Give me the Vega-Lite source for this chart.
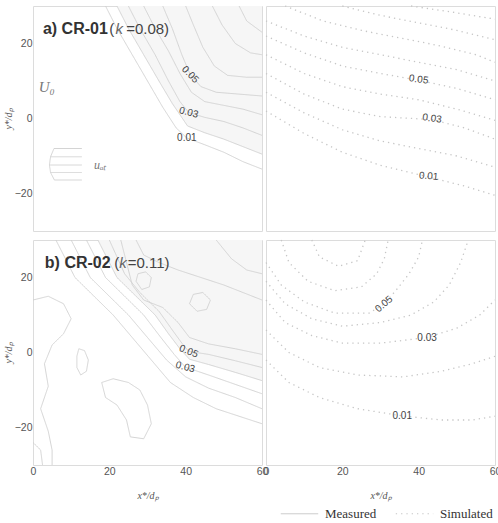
{
  "$schema": "https://vega.github.io/schema/vega-lite/v6.json",
  "background": "white",
  "padding": {"left": 2, "top": 2, "right": 0, "bottom": 0},
  "config": {
    "view": {"stroke": "#dcdcdc", "strokeWidth": 1},
    "axis": {"labelFont": "Liberation Sans", "labelFontSize": 10.5, "labelColor": "#555", "ticks": false, "domain": false, "grid": false, "titleFont": "Liberation Serif", "titleFontStyle": "italic", "titleFontWeight": "normal", "titleFontSize": 10, "titleColor": "#555"},
    "axisY": {"labelPadding": 1, "titlePadding": 1},
    "axisX": {"labelPadding": 1.5, "titlePadding": 13, "labelFlush": false},
    "text": {"font": "Liberation Sans", "fontSize": 10, "color": "#444", "align": "center", "baseline": "middle"}
  },
  "datasets": {
    "c": [
      {"p":"am","id":"a1","i":0,"x":19,"y":30},{"p":"am","id":"a1","i":1,"x":22,"y":24},{"p":"am","id":"a1","i":2,"x":26,"y":17},{"p":"am","id":"a1","i":3,"x":30,"y":10},{"p":"am","id":"a1","i":4,"x":34,"y":3},{"p":"am","id":"a1","i":5,"x":37.5,"y":-2.5},{"p":"am","id":"a1","i":6,"x":40.3,"y":-5.2},{"p":"am","id":"a1","i":7,"x":45,"y":-7},{"p":"am","id":"a1","i":8,"x":50,"y":-9},{"p":"am","id":"a1","i":9,"x":55,"y":-11.5},{"p":"am","id":"a1","i":10,"x":60,"y":-13.5},
      {"p":"am","id":"a2","i":0,"x":22,"y":30},{"p":"am","id":"a2","i":1,"x":25,"y":24},{"p":"am","id":"a2","i":2,"x":29,"y":17},{"p":"am","id":"a2","i":3,"x":33,"y":10},{"p":"am","id":"a2","i":4,"x":36.5,"y":4},{"p":"am","id":"a2","i":5,"x":40.5,"y":-2},{"p":"am","id":"a2","i":6,"x":45,"y":-3.8},{"p":"am","id":"a2","i":7,"x":50,"y":-5.5},{"p":"am","id":"a2","i":8,"x":55,"y":-7.5},{"p":"am","id":"a2","i":9,"x":60,"y":-9.5},
      {"p":"am","id":"a3","i":0,"x":25,"y":30},{"p":"am","id":"a3","i":1,"x":28,"y":24},{"p":"am","id":"a3","i":2,"x":32,"y":17},{"p":"am","id":"a3","i":3,"x":35.5,"y":10},{"p":"am","id":"a3","i":4,"x":38.5,"y":4.5},{"p":"am","id":"a3","i":5,"x":40.8,"y":1.6},{"p":"am","id":"a3","i":6,"x":45,"y":0.3},{"p":"am","id":"a3","i":7,"x":50,"y":-0.8},{"p":"am","id":"a3","i":8,"x":55,"y":-2.5},{"p":"am","id":"a3","i":9,"x":60,"y":-4.5},
      {"p":"am","id":"a4","i":0,"x":29,"y":30},{"p":"am","id":"a4","i":1,"x":32,"y":24},{"p":"am","id":"a4","i":2,"x":35.5,"y":18},{"p":"am","id":"a4","i":3,"x":38.5,"y":12},{"p":"am","id":"a4","i":4,"x":41.5,"y":7},{"p":"am","id":"a4","i":5,"x":45,"y":4.5},{"p":"am","id":"a4","i":6,"x":50,"y":3.5},{"p":"am","id":"a4","i":7,"x":55,"y":2.5},{"p":"am","id":"a4","i":8,"x":60,"y":1},
      {"p":"am","id":"a5","i":0,"x":34,"y":30},{"p":"am","id":"a5","i":1,"x":36.5,"y":24},{"p":"am","id":"a5","i":2,"x":39,"y":17},{"p":"am","id":"a5","i":3,"x":41.2,"y":11.7},{"p":"am","id":"a5","i":4,"x":44,"y":8.5},{"p":"am","id":"a5","i":5,"x":48,"y":7},{"p":"am","id":"a5","i":6,"x":54,"y":6.5},{"p":"am","id":"a5","i":7,"x":60,"y":6},
      {"p":"am","id":"a6","i":0,"x":40,"y":30},{"p":"am","id":"a6","i":1,"x":42,"y":25},{"p":"am","id":"a6","i":2,"x":44.5,"y":19},{"p":"am","id":"a6","i":3,"x":47.5,"y":14},{"p":"am","id":"a6","i":4,"x":51,"y":11.5},{"p":"am","id":"a6","i":5,"x":56,"y":11},{"p":"am","id":"a6","i":6,"x":60,"y":11},
      {"p":"am","id":"a7","i":0,"x":47,"y":30},{"p":"am","id":"a7","i":1,"x":49.5,"y":25},{"p":"am","id":"a7","i":2,"x":53,"y":20},{"p":"am","id":"a7","i":3,"x":57,"y":17.5},{"p":"am","id":"a7","i":4,"x":60,"y":17},
      {"p":"am","id":"a8","i":0,"x":54,"y":30},{"p":"am","id":"a8","i":1,"x":56,"y":26},{"p":"am","id":"a8","i":2,"x":60,"y":23},
      {"p":"am","id":"pr","i":0,"x":5.5,"y":-8},{"p":"am","id":"pr","i":1,"x":4.6,"y":-10.2},{"p":"am","id":"pr","i":2,"x":4.3,"y":-12.4},{"p":"am","id":"pr","i":3,"x":4.6,"y":-14.4},{"p":"am","id":"pr","i":4,"x":5.6,"y":-16.4},
      {"p":"am","id":"h1","i":0,"x":5.5,"y":-8},{"p":"am","id":"h1","i":1,"x":12.8,"y":-8},
      {"p":"am","id":"h2","i":0,"x":4.6,"y":-10.2},{"p":"am","id":"h2","i":1,"x":12.8,"y":-10.2},
      {"p":"am","id":"h3","i":0,"x":4.3,"y":-12.4},{"p":"am","id":"h3","i":1,"x":12.8,"y":-12.4},
      {"p":"am","id":"h4","i":0,"x":4.6,"y":-14.4},{"p":"am","id":"h4","i":1,"x":12.8,"y":-14.4},
      {"p":"am","id":"h5","i":0,"x":5.6,"y":-16.4},{"p":"am","id":"h5","i":1,"x":12.8,"y":-16.4},

      {"p":"as","id":"s1","i":0,"x":0,"y":2},{"p":"as","id":"s1","i":1,"x":10,"y":-4},{"p":"as","id":"s1","i":2,"x":20,"y":-9},{"p":"as","id":"s1","i":3,"x":30,"y":-12.5},{"p":"as","id":"s1","i":4,"x":42.6,"y":-15.6},{"p":"as","id":"s1","i":5,"x":52,"y":-18},{"p":"as","id":"s1","i":6,"x":60,"y":-20.5},
      {"p":"as","id":"s2","i":0,"x":0,"y":7},{"p":"as","id":"s2","i":1,"x":10,"y":1.5},{"p":"as","id":"s2","i":2,"x":20,"y":-3},{"p":"as","id":"s2","i":3,"x":30,"y":-6},{"p":"as","id":"s2","i":4,"x":40,"y":-8},{"p":"as","id":"s2","i":5,"x":50,"y":-10},{"p":"as","id":"s2","i":6,"x":60,"y":-13},
      {"p":"as","id":"s3","i":0,"x":0,"y":12},{"p":"as","id":"s3","i":1,"x":10,"y":6.5},{"p":"as","id":"s3","i":2,"x":20,"y":2.5},{"p":"as","id":"s3","i":3,"x":30,"y":0.5},{"p":"as","id":"s3","i":4,"x":43.5,"y":-0.3},{"p":"as","id":"s3","i":5,"x":52,"y":-2.5},{"p":"as","id":"s3","i":6,"x":60,"y":-5.5},
      {"p":"as","id":"s4","i":0,"x":0,"y":17},{"p":"as","id":"s4","i":1,"x":10,"y":12},{"p":"as","id":"s4","i":2,"x":20,"y":8.5},{"p":"as","id":"s4","i":3,"x":30,"y":6.5},{"p":"as","id":"s4","i":4,"x":40,"y":5},{"p":"as","id":"s4","i":5,"x":50,"y":2.5},{"p":"as","id":"s4","i":6,"x":60,"y":-0.5},
      {"p":"as","id":"s5","i":0,"x":0,"y":22},{"p":"as","id":"s5","i":1,"x":10,"y":17.5},{"p":"as","id":"s5","i":2,"x":20,"y":14},{"p":"as","id":"s5","i":3,"x":30,"y":12},{"p":"as","id":"s5","i":4,"x":40,"y":10.2},{"p":"as","id":"s5","i":5,"x":50,"y":8},{"p":"as","id":"s5","i":6,"x":60,"y":5},
      {"p":"as","id":"s6","i":0,"x":0,"y":26},{"p":"as","id":"s6","i":1,"x":10,"y":22},{"p":"as","id":"s6","i":2,"x":20,"y":19},{"p":"as","id":"s6","i":3,"x":30,"y":17},{"p":"as","id":"s6","i":4,"x":40,"y":15},{"p":"as","id":"s6","i":5,"x":50,"y":13},{"p":"as","id":"s6","i":6,"x":60,"y":10},
      {"p":"as","id":"s7","i":0,"x":5,"y":30},{"p":"as","id":"s7","i":1,"x":15,"y":26},{"p":"as","id":"s7","i":2,"x":25,"y":23.5},{"p":"as","id":"s7","i":3,"x":35,"y":21.5},{"p":"as","id":"s7","i":4,"x":45,"y":19.5},{"p":"as","id":"s7","i":5,"x":55,"y":17},{"p":"as","id":"s7","i":6,"x":60,"y":15},
      {"p":"as","id":"s8","i":0,"x":20,"y":30},{"p":"as","id":"s8","i":1,"x":30,"y":27.5},{"p":"as","id":"s8","i":2,"x":40,"y":25.5},{"p":"as","id":"s8","i":3,"x":50,"y":23.5},{"p":"as","id":"s8","i":4,"x":60,"y":21},
      {"p":"as","id":"s9","i":0,"x":38,"y":30},{"p":"as","id":"s9","i":1,"x":48,"y":28.5},{"p":"as","id":"s9","i":2,"x":60,"y":26.5},

      {"p":"bm","id":"b1","i":0,"x":6,"y":30},{"p":"bm","id":"b1","i":1,"x":11,"y":20},{"p":"bm","id":"b1","i":2,"x":16,"y":15},{"p":"bm","id":"b1","i":3,"x":21,"y":10},{"p":"bm","id":"b1","i":4,"x":26,"y":4},{"p":"bm","id":"b1","i":5,"x":31,"y":-2},{"p":"bm","id":"b1","i":6,"x":36,"y":-8},{"p":"bm","id":"b1","i":7,"x":42,"y":-12},{"p":"bm","id":"b1","i":8,"x":48,"y":-15},{"p":"bm","id":"b1","i":9,"x":54,"y":-17},{"p":"bm","id":"b1","i":10,"x":60,"y":-19},
      {"p":"bm","id":"b2","i":0,"x":10,"y":30},{"p":"bm","id":"b2","i":1,"x":15,"y":20},{"p":"bm","id":"b2","i":2,"x":20,"y":15},{"p":"bm","id":"b2","i":3,"x":25,"y":10},{"p":"bm","id":"b2","i":4,"x":30,"y":4},{"p":"bm","id":"b2","i":5,"x":35,"y":-2},{"p":"bm","id":"b2","i":6,"x":40,"y":-6.5},{"p":"bm","id":"b2","i":7,"x":46,"y":-9.5},{"p":"bm","id":"b2","i":8,"x":53,"y":-12},{"p":"bm","id":"b2","i":9,"x":60,"y":-15},
      {"p":"bm","id":"b3","i":0,"x":14,"y":30},{"p":"bm","id":"b3","i":1,"x":19,"y":20},{"p":"bm","id":"b3","i":2,"x":24,"y":15},{"p":"bm","id":"b3","i":3,"x":29,"y":10},{"p":"bm","id":"b3","i":4,"x":33.5,"y":4},{"p":"bm","id":"b3","i":5,"x":37,"y":-0.5},{"p":"bm","id":"b3","i":6,"x":39.9,"y":-3.9},{"p":"bm","id":"b3","i":7,"x":46,"y":-6},{"p":"bm","id":"b3","i":8,"x":53,"y":-8.5},{"p":"bm","id":"b3","i":9,"x":60,"y":-11},
      {"p":"bm","id":"b4","i":0,"x":17,"y":30},{"p":"bm","id":"b4","i":1,"x":22,"y":20},{"p":"bm","id":"b4","i":2,"x":27,"y":15},{"p":"bm","id":"b4","i":3,"x":32,"y":10},{"p":"bm","id":"b4","i":4,"x":35.5,"y":5},{"p":"bm","id":"b4","i":5,"x":38.5,"y":1},{"p":"bm","id":"b4","i":6,"x":41,"y":-1.8},{"p":"bm","id":"b4","i":7,"x":46,"y":-3.2},{"p":"bm","id":"b4","i":8,"x":53,"y":-5.3},{"p":"bm","id":"b4","i":9,"x":60,"y":-7.5},
      {"p":"bm","id":"b5","i":0,"x":20,"y":30},{"p":"bm","id":"b5","i":1,"x":24,"y":21},{"p":"bm","id":"b5","i":2,"x":28,"y":16},{"p":"bm","id":"b5","i":3,"x":33,"y":11},{"p":"bm","id":"b5","i":4,"x":36.5,"y":6},{"p":"bm","id":"b5","i":5,"x":39,"y":2.5},{"p":"bm","id":"b5","i":6,"x":40.8,"y":0.3},{"p":"bm","id":"b5","i":7,"x":46,"y":-0.5},{"p":"bm","id":"b5","i":8,"x":53,"y":-2.2},{"p":"bm","id":"b5","i":9,"x":60,"y":-4},
      {"p":"bm","id":"b6","i":0,"x":23,"y":30},{"p":"bm","id":"b6","i":1,"x":24,"y":26},{"p":"bm","id":"b6","i":2,"x":25,"y":22},{"p":"bm","id":"b6","i":3,"x":26,"y":18},{"p":"bm","id":"b6","i":4,"x":29,"y":14},{"p":"bm","id":"b6","i":5,"x":34,"y":12},{"p":"bm","id":"b6","i":6,"x":38,"y":8},{"p":"bm","id":"b6","i":7,"x":41,"y":4},{"p":"bm","id":"b6","i":8,"x":46,"y":2.3},{"p":"bm","id":"b6","i":9,"x":53,"y":1},{"p":"bm","id":"b6","i":10,"x":60,"y":-0.5},
      {"p":"bm","id":"b7","i":0,"x":27,"y":19},{"p":"bm","id":"b7","i":1,"x":27.5,"y":21},{"p":"bm","id":"b7","i":2,"x":29.5,"y":21.5},{"p":"bm","id":"b7","i":3,"x":31,"y":20},{"p":"bm","id":"b7","i":4,"x":30.5,"y":17.5},{"p":"bm","id":"b7","i":5,"x":28.5,"y":16.8},{"p":"bm","id":"b7","i":6,"x":27,"y":19},
      {"p":"bm","id":"b8","i":0,"x":41,"y":13},{"p":"bm","id":"b8","i":1,"x":42,"y":15.5},{"p":"bm","id":"b8","i":2,"x":44.5,"y":16},{"p":"bm","id":"b8","i":3,"x":46.5,"y":14},{"p":"bm","id":"b8","i":4,"x":45.5,"y":11.5},{"p":"bm","id":"b8","i":5,"x":43,"y":11},{"p":"bm","id":"b8","i":6,"x":41,"y":13},
      {"p":"bm","id":"b9","i":0,"x":27,"y":30},{"p":"bm","id":"b9","i":1,"x":29,"y":26},{"p":"bm","id":"b9","i":2,"x":33,"y":24},{"p":"bm","id":"b9","i":3,"x":38,"y":22},{"p":"bm","id":"b9","i":4,"x":44,"y":20},{"p":"bm","id":"b9","i":5,"x":50,"y":18},{"p":"bm","id":"b9","i":6,"x":55,"y":16},{"p":"bm","id":"b9","i":7,"x":60,"y":14},
      {"p":"bm","id":"b10","i":0,"x":48,"y":30},{"p":"bm","id":"b10","i":1,"x":52,"y":25},{"p":"bm","id":"b10","i":2,"x":56,"y":22},{"p":"bm","id":"b10","i":3,"x":60,"y":21},
      {"p":"bm","id":"b11","i":0,"x":0,"y":14},{"p":"bm","id":"b11","i":1,"x":4,"y":15},{"p":"bm","id":"b11","i":2,"x":8,"y":13},{"p":"bm","id":"b11","i":3,"x":10,"y":9},{"p":"bm","id":"b11","i":4,"x":8,"y":5},{"p":"bm","id":"b11","i":5,"x":5,"y":2},{"p":"bm","id":"b11","i":6,"x":3,"y":-3},{"p":"bm","id":"b11","i":7,"x":4,"y":-9},{"p":"bm","id":"b11","i":8,"x":2,"y":-15},{"p":"bm","id":"b11","i":9,"x":4,"y":-21},{"p":"bm","id":"b11","i":10,"x":5,"y":-26},{"p":"bm","id":"b11","i":11,"x":5,"y":-30},
      {"p":"bm","id":"b12","i":0,"x":12,"y":1},{"p":"bm","id":"b12","i":1,"x":13.5,"y":0.5},{"p":"bm","id":"b12","i":2,"x":14.5,"y":-2},{"p":"bm","id":"b12","i":3,"x":14,"y":-5},{"p":"bm","id":"b12","i":4,"x":12.5,"y":-6},{"p":"bm","id":"b12","i":5,"x":11.5,"y":-4},{"p":"bm","id":"b12","i":6,"x":11.5,"y":-1},{"p":"bm","id":"b12","i":7,"x":12,"y":1},
      {"p":"bm","id":"b13","i":0,"x":18,"y":-8},{"p":"bm","id":"b13","i":1,"x":21,"y":-7},{"p":"bm","id":"b13","i":2,"x":25,"y":-8},{"p":"bm","id":"b13","i":3,"x":28,"y":-10},{"p":"bm","id":"b13","i":4,"x":30,"y":-14},{"p":"bm","id":"b13","i":5,"x":31,"y":-19},{"p":"bm","id":"b13","i":6,"x":29,"y":-23},{"p":"bm","id":"b13","i":7,"x":25.5,"y":-22.5},{"p":"bm","id":"b13","i":8,"x":24.5,"y":-18},{"p":"bm","id":"b13","i":9,"x":22,"y":-14},{"p":"bm","id":"b13","i":10,"x":19,"y":-12},{"p":"bm","id":"b13","i":11,"x":18,"y":-8},
      {"p":"bm","id":"b14","i":0,"x":0,"y":-24},{"p":"bm","id":"b14","i":1,"x":2,"y":-26},{"p":"bm","id":"b14","i":2,"x":2.5,"y":-30},

      {"p":"bs","id":"t1","i":0,"x":0,"y":-2},{"p":"bs","id":"t1","i":1,"x":6,"y":-8},{"p":"bs","id":"t1","i":2,"x":14,"y":-12},{"p":"bs","id":"t1","i":3,"x":24,"y":-15},{"p":"bs","id":"t1","i":4,"x":35.7,"y":-16.9},{"p":"bs","id":"t1","i":5,"x":46,"y":-18},{"p":"bs","id":"t1","i":6,"x":54,"y":-18},{"p":"bs","id":"t1","i":7,"x":60,"y":-17},
      {"p":"bs","id":"t2","i":0,"x":0,"y":6},{"p":"bs","id":"t2","i":1,"x":6,"y":0},{"p":"bs","id":"t2","i":2,"x":14,"y":-4},{"p":"bs","id":"t2","i":3,"x":24,"y":-6},{"p":"bs","id":"t2","i":4,"x":36,"y":-6.5},{"p":"bs","id":"t2","i":5,"x":46,"y":-5},{"p":"bs","id":"t2","i":6,"x":54,"y":-3},{"p":"bs","id":"t2","i":7,"x":60,"y":-1},
      {"p":"bs","id":"t3","i":0,"x":0,"y":14},{"p":"bs","id":"t3","i":1,"x":5,"y":8},{"p":"bs","id":"t3","i":2,"x":12,"y":4.5},{"p":"bs","id":"t3","i":3,"x":20,"y":2.5},{"p":"bs","id":"t3","i":4,"x":30,"y":2.5},{"p":"bs","id":"t3","i":5,"x":42.2,"y":4},{"p":"bs","id":"t3","i":6,"x":50,"y":6.5},{"p":"bs","id":"t3","i":7,"x":56,"y":10},{"p":"bs","id":"t3","i":8,"x":60,"y":14},
      {"p":"bs","id":"t4","i":0,"x":0,"y":19},{"p":"bs","id":"t4","i":1,"x":5,"y":13},{"p":"bs","id":"t4","i":2,"x":12,"y":9},{"p":"bs","id":"t4","i":3,"x":20,"y":7},{"p":"bs","id":"t4","i":4,"x":30,"y":8},{"p":"bs","id":"t4","i":5,"x":38,"y":10},{"p":"bs","id":"t4","i":6,"x":44,"y":13.5},{"p":"bs","id":"t4","i":7,"x":48,"y":18},{"p":"bs","id":"t4","i":8,"x":51,"y":24},{"p":"bs","id":"t4","i":9,"x":53,"y":30},
      {"p":"bs","id":"t5","i":0,"x":0,"y":24},{"p":"bs","id":"t5","i":1,"x":4,"y":18},{"p":"bs","id":"t5","i":2,"x":10,"y":13.5},{"p":"bs","id":"t5","i":3,"x":18,"y":10.5},{"p":"bs","id":"t5","i":4,"x":27,"y":10.5},{"p":"bs","id":"t5","i":5,"x":30.9,"y":12.9},{"p":"bs","id":"t5","i":6,"x":34,"y":16.5},{"p":"bs","id":"t5","i":7,"x":37.5,"y":21},{"p":"bs","id":"t5","i":8,"x":40,"y":25.5},{"p":"bs","id":"t5","i":9,"x":41,"y":30},
      {"p":"bs","id":"t6","i":0,"x":4,"y":30},{"p":"bs","id":"t6","i":1,"x":6,"y":24},{"p":"bs","id":"t6","i":2,"x":11,"y":19},{"p":"bs","id":"t6","i":3,"x":18,"y":16.5},{"p":"bs","id":"t6","i":4,"x":25,"y":17.5},{"p":"bs","id":"t6","i":5,"x":29,"y":21},{"p":"bs","id":"t6","i":6,"x":31,"y":25},{"p":"bs","id":"t6","i":7,"x":32,"y":30},
      {"p":"bs","id":"t7","i":0,"x":12,"y":30},{"p":"bs","id":"t7","i":1,"x":14,"y":25.5},{"p":"bs","id":"t7","i":2,"x":19,"y":23},{"p":"bs","id":"t7","i":3,"x":24,"y":24.5},{"p":"bs","id":"t7","i":4,"x":26,"y":30}
    ],
    "lab": [
      {"p":"am","t":"0.05","x":41.2,"y":11.7},{"p":"am","t":"0.03","x":40.8,"y":1.6},{"p":"am","t":"0.01","x":40.3,"y":-5.2},
      {"p":"as","t":"0.05","x":40,"y":10.4},{"p":"as","t":"0.03","x":43.5,"y":0},{"p":"as","t":"0.01","x":42.6,"y":-15.4},
      {"p":"bm","t":"0.05","x":40.8,"y":0.3},{"p":"bm","t":"0.03","x":39.9,"y":-3.9},
      {"p":"bs","t":"0.05","x":30.9,"y":12.9},{"p":"bs","t":"0.03","x":42.2,"y":4},{"p":"bs","t":"0.01","x":35.7,"y":-16.9}
    ],
    "ttl": [
      {"p":"a","s":"b","t":"a) CR-01","x":2.6,"y":24},{"p":"a","s":"n","t":"(","x":20,"y":24},{"p":"a","s":"i","t":"k","x":21.6,"y":24},{"p":"a","s":"n","t":"=0.08)","x":24.4,"y":24},
      {"p":"b","s":"b","t":"b) CR-02","x":3.1,"y":23.8},{"p":"b","s":"n","t":"(","x":21.3,"y":23.8},{"p":"b","s":"i","t":"k","x":22.6,"y":23.8},{"p":"b","s":"n","t":"=0.11)","x":24.8,"y":23.8}
    ],
    "sym": [
      {"t":"U₀","x":3.6,"y":8.3},{"t":"uₐₜ","x":17.6,"y":-12.3}
    ]
  },
  "resolve": {"scale": {"strokeDash": "shared"}, "legend": {"strokeDash": "shared"}},
  "spacing": 4,
  "vconcat": [
    {
      "spacing": 4,
      "bounds": "flush",
      "resolve": {"scale": {"strokeDash": "shared"}, "legend": {"strokeDash": "shared"}},
      "hconcat": [
        {
          "width": 229, "height": 225,
          "encoding": {
            "x": {"field": "x", "type": "quantitative", "scale": {"domain": [0, 60], "nice": false, "zero": false}, "axis": null},
            "y": {"field": "y", "type": "quantitative", "scale": {"domain": [-30, 30], "nice": false, "zero": false}, "axis": {"values": [-20, 0, 20], "title": "y*/dₚ"}}
          },
          "layer": [
            {"data": {"name": "c"}, "transform": [{"filter": "datum.id == 'a2'"}], "mark": {"type": "area", "color": "#f6f6f6"}, "encoding": {"y2": {"datum": 30}}},
            {"data": {"name": "c"}, "transform": [{"filter": "datum.p == 'am'"}], "mark": {"type": "line", "stroke": "#cfcfcf", "strokeWidth": 0.9},
             "encoding": {"detail": {"field": "id"}, "order": {"field": "i"},
               "strokeDash": {"datum": "Measured", "scale": {"domain": ["Measured", "Simulated"], "range": [[1, 0], [1.3, 4]]},
                 "legend": {"orient": "none", "legendX": 247, "legendY": 488, "direction": "horizontal", "title": null, "symbolType": "stroke", "symbolSize": 1400, "symbolStrokeColor": "#b5b5b5", "symbolStrokeWidth": 1, "labelFont": "Liberation Serif", "labelFontSize": 13, "labelColor": "#333", "labelOffset": 6, "columnPadding": 16}}}},
            {"data": {"name": "lab"}, "transform": [{"filter": "datum.p == 'am' && datum.t == '0.05'"}], "mark": {"type": "text", "angle": 45}, "encoding": {"text": {"field": "t"}}},
            {"data": {"name": "lab"}, "transform": [{"filter": "datum.p == 'am' && datum.t == '0.03'"}], "mark": {"type": "text", "angle": 15}, "encoding": {"text": {"field": "t"}}},
            {"data": {"name": "lab"}, "transform": [{"filter": "datum.p == 'am' && datum.t == '0.01'"}], "mark": {"type": "text", "angle": 0}, "encoding": {"text": {"field": "t"}}},
            {"data": {"name": "ttl"}, "transform": [{"filter": "datum.p == 'a' && datum.s == 'b'"}], "mark": {"type": "text", "align": "left", "fontSize": 16, "fontWeight": "bold", "color": "#333"}, "encoding": {"text": {"field": "t"}}},
            {"data": {"name": "ttl"}, "transform": [{"filter": "datum.p == 'a' && datum.s == 'n'"}], "mark": {"type": "text", "align": "left", "fontSize": 15, "color": "#444"}, "encoding": {"text": {"field": "t"}}},
            {"data": {"name": "ttl"}, "transform": [{"filter": "datum.p == 'a' && datum.s == 'i'"}], "mark": {"type": "text", "align": "left", "fontSize": 15, "fontStyle": "italic", "color": "#666"}, "encoding": {"text": {"field": "t"}}},
            {"data": {"name": "sym"}, "transform": [{"filter": "datum.t == 'U₀'"}], "mark": {"type": "text", "font": "Liberation Serif", "fontStyle": "italic", "fontSize": 15, "color": "#777"}, "encoding": {"text": {"field": "t"}}},
            {"data": {"name": "sym"}, "transform": [{"filter": "datum.t != 'U₀'"}], "mark": {"type": "text", "font": "Liberation Serif", "fontStyle": "italic", "fontSize": 12, "color": "#777"}, "encoding": {"text": {"field": "t"}}}
          ]
        },
        {
          "width": 229, "height": 225,
          "encoding": {
            "x": {"field": "x", "type": "quantitative", "scale": {"domain": [0, 60], "nice": false, "zero": false}, "axis": null},
            "y": {"field": "y", "type": "quantitative", "scale": {"domain": [-30, 30], "nice": false, "zero": false}, "axis": null}
          },
          "layer": [
            {"data": {"name": "c"}, "transform": [{"filter": "datum.p == 'as'"}], "mark": {"type": "line", "stroke": "#c6c6c6", "strokeWidth": 1.3},
             "encoding": {"detail": {"field": "id"}, "order": {"field": "i"}, "strokeDash": {"datum": "Simulated"}}},
            {"data": {"name": "lab"}, "transform": [{"filter": "datum.p == 'as' && datum.t == '0.05'"}], "mark": {"type": "text", "angle": 8}, "encoding": {"text": {"field": "t"}}},
            {"data": {"name": "lab"}, "transform": [{"filter": "datum.p == 'as' && datum.t == '0.03'"}], "mark": {"type": "text", "angle": 8}, "encoding": {"text": {"field": "t"}}},
            {"data": {"name": "lab"}, "transform": [{"filter": "datum.p == 'as' && datum.t == '0.01'"}], "mark": {"type": "text", "angle": 5}, "encoding": {"text": {"field": "t"}}}
          ]
        }
      ]
    },
    {
      "spacing": 4,
      "bounds": "flush",
      "resolve": {"scale": {"strokeDash": "shared"}, "legend": {"strokeDash": "shared"}},
      "hconcat": [
        {
          "width": 229, "height": 225,
          "encoding": {
            "x": {"field": "x", "type": "quantitative", "scale": {"domain": [0, 60], "nice": false, "zero": false}, "axis": {"values": [0, 20, 40, 60], "title": "x*/dₚ"}},
            "y": {"field": "y", "type": "quantitative", "scale": {"domain": [-30, 30], "nice": false, "zero": false}, "axis": {"values": [-20, 0, 20], "title": "y*/dₚ"}}
          },
          "layer": [
            {"data": {"name": "c"}, "transform": [{"filter": "datum.id == 'b4'"}], "mark": {"type": "area", "color": "#f6f6f6"}, "encoding": {"y2": {"datum": 30}}},
            {"data": {"name": "c"}, "transform": [{"filter": "datum.p == 'bm'"}], "mark": {"type": "line", "stroke": "#cfcfcf", "strokeWidth": 0.9},
             "encoding": {"detail": {"field": "id"}, "order": {"field": "i"}, "strokeDash": {"datum": "Measured"}}},
            {"data": {"name": "lab"}, "transform": [{"filter": "datum.p == 'bm' && datum.t == '0.05'"}], "mark": {"type": "text", "angle": 22}, "encoding": {"text": {"field": "t"}}},
            {"data": {"name": "lab"}, "transform": [{"filter": "datum.p == 'bm' && datum.t == '0.03'"}], "mark": {"type": "text", "angle": 15}, "encoding": {"text": {"field": "t"}}},
            {"data": {"name": "ttl"}, "transform": [{"filter": "datum.p == 'b' && datum.s == 'b'"}], "mark": {"type": "text", "align": "left", "fontSize": 16, "fontWeight": "bold", "color": "#333"}, "encoding": {"text": {"field": "t"}}},
            {"data": {"name": "ttl"}, "transform": [{"filter": "datum.p == 'b' && datum.s == 'n'"}], "mark": {"type": "text", "align": "left", "fontSize": 15, "color": "#444"}, "encoding": {"text": {"field": "t"}}},
            {"data": {"name": "ttl"}, "transform": [{"filter": "datum.p == 'b' && datum.s == 'i'"}], "mark": {"type": "text", "align": "left", "fontSize": 15, "fontStyle": "italic", "color": "#666"}, "encoding": {"text": {"field": "t"}}}
          ]
        },
        {
          "width": 229, "height": 225,
          "encoding": {
            "x": {"field": "x", "type": "quantitative", "scale": {"domain": [0, 60], "nice": false, "zero": false}, "axis": {"values": [0, 20, 40, 60], "title": "x*/dₚ"}},
            "y": {"field": "y", "type": "quantitative", "scale": {"domain": [-30, 30], "nice": false, "zero": false}, "axis": null}
          },
          "layer": [
            {"data": {"name": "c"}, "transform": [{"filter": "datum.p == 'bs'"}], "mark": {"type": "line", "stroke": "#c6c6c6", "strokeWidth": 1.3},
             "encoding": {"detail": {"field": "id"}, "order": {"field": "i"}, "strokeDash": {"datum": "Simulated"}}},
            {"data": {"name": "lab"}, "transform": [{"filter": "datum.p == 'bs' && datum.t == '0.05'"}], "mark": {"type": "text", "angle": -40}, "encoding": {"text": {"field": "t"}}},
            {"data": {"name": "lab"}, "transform": [{"filter": "datum.p == 'bs' && datum.t == '0.03'"}], "mark": {"type": "text", "angle": 0}, "encoding": {"text": {"field": "t"}}},
            {"data": {"name": "lab"}, "transform": [{"filter": "datum.p == 'bs' && datum.t == '0.01'"}], "mark": {"type": "text", "angle": 0}, "encoding": {"text": {"field": "t"}}}
          ]
        }
      ]
    }
  ]
}
